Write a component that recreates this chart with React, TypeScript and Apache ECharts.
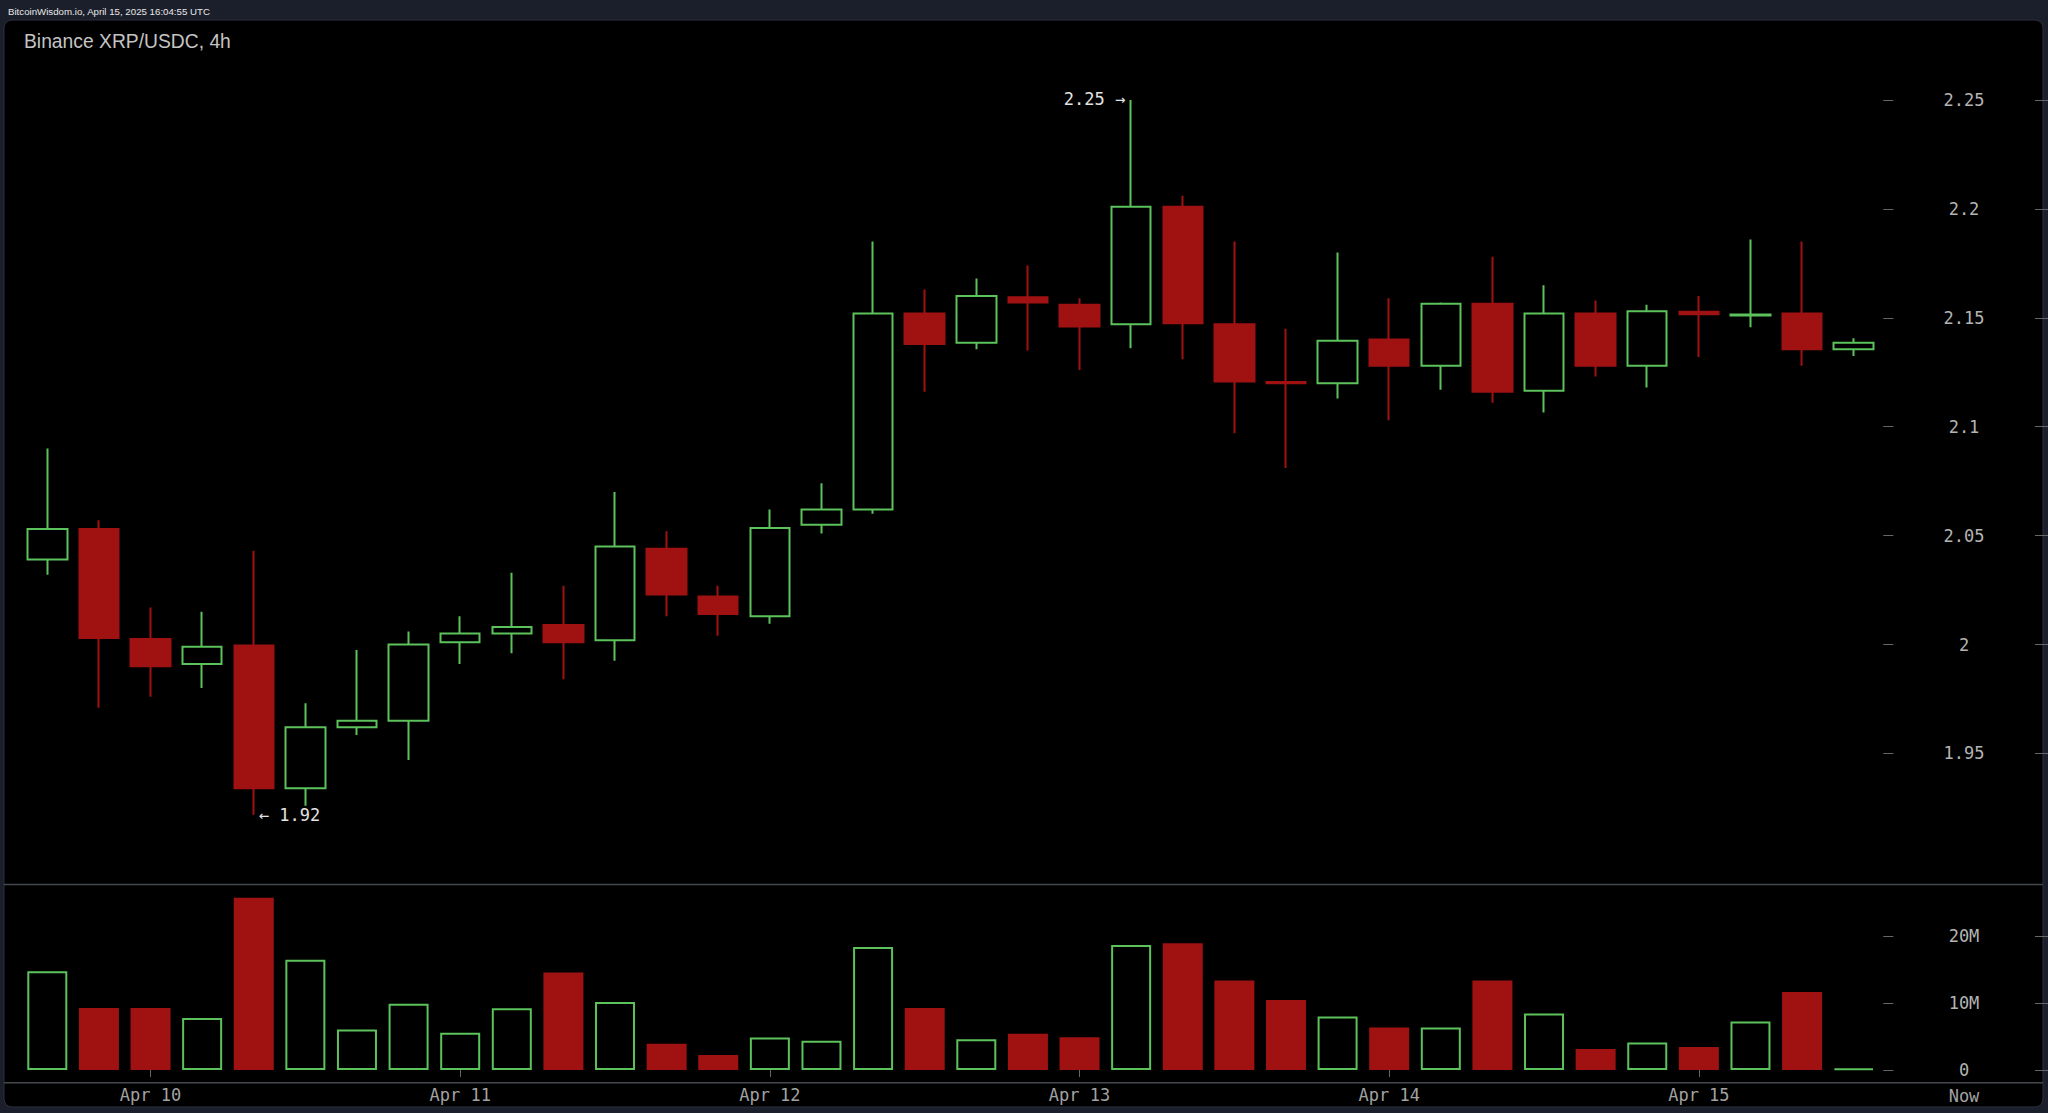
import React, { useEffect, useRef } from "react";
import * as echarts from "echarts";

// 4h candles (chart local time)
const times = [
  "2025-04-09 16:00", "2025-04-09 20:00",
  "2025-04-10 00:00", "2025-04-10 04:00", "2025-04-10 08:00", "2025-04-10 12:00", "2025-04-10 16:00", "2025-04-10 20:00",
  "2025-04-11 00:00", "2025-04-11 04:00", "2025-04-11 08:00", "2025-04-11 12:00", "2025-04-11 16:00", "2025-04-11 20:00",
  "2025-04-12 00:00", "2025-04-12 04:00", "2025-04-12 08:00", "2025-04-12 12:00", "2025-04-12 16:00", "2025-04-12 20:00",
  "2025-04-13 00:00", "2025-04-13 04:00", "2025-04-13 08:00", "2025-04-13 12:00", "2025-04-13 16:00", "2025-04-13 20:00",
  "2025-04-14 00:00", "2025-04-14 04:00", "2025-04-14 08:00", "2025-04-14 12:00", "2025-04-14 16:00", "2025-04-14 20:00",
  "2025-04-15 00:00", "2025-04-15 04:00", "2025-04-15 08:00", "2025-04-15 12:00",
];

const opens = [
  2.039, 2.053, 2.0025, 1.991, 1.9995, 1.934, 1.962, 1.965, 2.001, 2.005, 2.009, 2.002,
  2.044, 2.022, 2.013, 2.055, 2.062, 2.152, 2.1386, 2.1594, 2.156, 2.147, 2.201, 2.147,
  2.1205, 2.12, 2.14, 2.128, 2.1565, 2.1165, 2.152, 2.128, 2.1528, 2.151, 2.152, 2.1356,
];
const closes = [
  2.053, 2.003, 1.99, 1.999, 1.934, 1.962, 1.965, 2.0, 2.005, 2.008, 2.001, 2.045,
  2.023, 2.014, 2.0535, 2.062, 2.152, 2.138, 2.16, 2.157, 2.146, 2.201, 2.1475, 2.1207,
  2.12, 2.1395, 2.128, 2.1565, 2.116, 2.152, 2.128, 2.153, 2.1516, 2.1515, 2.1356, 2.1386,
];
const lows = [
  2.032, 1.971, 1.976, 1.98, 1.9218, 1.926, 1.9585, 1.947, 1.991, 1.996, 1.984, 1.9925,
  2.013, 2.004, 2.0095, 2.051, 2.06, 2.116, 2.1356, 2.135, 2.126, 2.136, 2.131, 2.097,
  2.081, 2.113, 2.103, 2.117, 2.111, 2.1065, 2.123, 2.118, 2.132, 2.1457, 2.128, 2.1325,
];
const highs = [
  2.09, 2.057, 2.017, 2.015, 2.043, 1.973, 1.9975, 2.006, 2.013, 2.033, 2.027, 2.07,
  2.052, 2.027, 2.062, 2.074, 2.185, 2.163, 2.168, 2.174, 2.159, 2.25, 2.206, 2.185,
  2.145, 2.18, 2.159, 2.157, 2.178, 2.165, 2.158, 2.156, 2.16, 2.186, 2.185, 2.1406,
];
// volume, millions
const volumes = [
  14.75, 9.25, 9.25, 7.75, 25.7, 16.45, 6.05, 9.9, 5.55, 9.2, 14.55, 10.15,
  3.9, 2.25, 4.85, 4.35, 18.35, 9.25, 4.6, 5.4, 4.9, 18.65, 18.9, 13.35,
  10.45, 8.0, 6.35, 6.35, 13.35, 8.45, 3.15, 4.1, 3.45, 7.25, 11.65, 0.2,
];

const priceTicks = { min: 1.95, max: 2.25, step: 0.05 };
const volumeTicks = { min: 0, max: 20, step: 10 };
const monthNames = ["Jan", "Feb", "Mar", "Apr", "May", "Jun", "Jul", "Aug", "Sep", "Oct", "Nov", "Dec"];

const GREEN = "#5cc25c";
const RED = "#a01212";
const MONO = "'DejaVu Sans Mono', monospace";

export default function App() {
  const ref = useRef<HTMLDivElement>(null);

  useEffect(() => {
    if (!ref.current) return;
    const chart = echarts.init(ref.current, null, { renderer: "svg" });

    let hiIdx = 0;
    let loIdx = 0;
    highs.forEach((h, i) => { if (h > highs[hiIdx]) hiIdx = i; });
    lows.forEach((l, i) => { if (l < lows[loIdx]) loIdx = i; });

    const isDayStart = (i: number) => times[i].endsWith("00:00");
    const dayLabel = (v: string) => {
      const [d] = v.split(" ");
      const [, m, day] = d.split("-");
      return `${monthNames[parseInt(m, 10) - 1]} ${parseInt(day, 10)}`;
    };

    const gridLeft = 21.5;
    const gridWidth = 1858;
    const tickColor = "#666";
    const labelColor = "#b4b4b4";

    const priceAxisBase = {
      type: "value",
      gridIndex: 0,
      position: "right",
      min: priceTicks.min,
      max: priceTicks.max,
      interval: priceTicks.step,
      splitLine: { show: false },
      axisLine: { show: false },
    };
    const volAxisBase = {
      type: "value",
      gridIndex: 1,
      position: "right",
      min: volumeTicks.min,
      max: volumeTicks.max,
      interval: volumeTicks.step,
      splitLine: { show: false },
      axisLine: { show: false },
    };

    chart.setOption({
      animation: false,
      backgroundColor: "transparent",
      grid: [
        { left: gridLeft, width: gridWidth, top: 100, height: 653.4 },
        { left: gridLeft, width: gridWidth, top: 936, height: 134 },
      ],
      xAxis: [
        { type: "category", gridIndex: 0, data: times, boundaryGap: true, show: false },
        {
          type: "category",
          gridIndex: 1,
          data: times,
          boundaryGap: true,
          offset: 12.7,
          axisLine: { show: false },
          axisTick: {
            show: true,
            alignWithLabel: true,
            interval: (i: number) => isDayStart(i),
            length: 7,
            lineStyle: { color: tickColor },
          },
          axisLabel: {
            interval: (i: number) => isDayStart(i),
            formatter: (v: string) => dayLabel(v),
            color: "#a2a2a2",
            fontFamily: MONO,
            fontSize: 17,
            margin: 4,
          },
        },
      ],
      yAxis: [
        {
          ...priceAxisBase,
          offset: 3.8,
          axisTick: { show: true, length: 10, lineStyle: { color: tickColor } },
          axisLabel: {
            align: "center",
            margin: 80.7,
            color: labelColor,
            fontFamily: MONO,
            fontSize: 17,
            formatter: (v: number) => String(+v.toFixed(2)),
          },
        },
        {
          ...priceAxisBase,
          offset: 155.5,
          axisTick: { show: true, length: 14, lineStyle: { color: tickColor } },
          axisLabel: { show: false },
        },
        {
          ...volAxisBase,
          offset: 3.8,
          axisTick: { show: true, length: 10, lineStyle: { color: tickColor } },
          axisLabel: {
            align: "center",
            margin: 80.7,
            color: labelColor,
            fontFamily: MONO,
            fontSize: 17,
            formatter: (v: number) => (v === 0 ? "0" : `${v}M`),
          },
        },
        {
          ...volAxisBase,
          offset: 155.5,
          axisTick: { show: true, length: 14, lineStyle: { color: tickColor } },
          axisLabel: { show: false },
        },
      ],
      series: [
        {
          type: "candlestick",
          xAxisIndex: 0,
          yAxisIndex: 0,
          clip: false,
          barWidth: 40,
          data: times.map((_, i) => [opens[i], closes[i], lows[i], highs[i]]),
          itemStyle: {
            color: "#000",
            color0: RED,
            borderColor: GREEN,
            borderColor0: RED,
            borderWidth: 2,
          },
        },
        {
          type: "bar",
          xAxisIndex: 1,
          yAxisIndex: 2,
          clip: false,
          barWidth: 40,
          data: volumes.map((v, i) => {
            const up = closes[i] >= opens[i];
            return {
              value: v,
              itemStyle: up
                ? { color: "#000", borderColor: GREEN, borderWidth: 2 }
                : { color: RED, borderColor: RED, borderWidth: 2 },
            };
          }),
        },
      ],
      graphic: [
        {
          id: "panel",
          type: "rect",
          z: -10,
          silent: true,
          shape: { x: 4, y: 20, width: 2039, height: 1087, r: 8 },
          style: { fill: "#000", stroke: "#2b303c", lineWidth: 1 },
        },
        {
          id: "sep1",
          type: "line",
          z: -5,
          silent: true,
          shape: { x1: 4, y1: 884.5, x2: 2043, y2: 884.5 },
          style: { stroke: "#45484f", lineWidth: 1.5 },
        },
        {
          id: "sep2",
          type: "line",
          z: -5,
          silent: true,
          shape: { x1: 4, y1: 1082.7, x2: 2043, y2: 1082.7 },
          style: { stroke: "#45484f", lineWidth: 1.5 },
        },
        {
          id: "topbar",
          type: "text",
          silent: true,
          style: {
            text: "BitcoinWisdom.io, April 15, 2025 16:04:55 UTC",
            x: 8,
            y: 11.5,
            verticalAlign: "middle",
            fill: "#e8e8e8",
            font: "9.7px 'Liberation Sans', Arial, sans-serif",
          },
        },
        {
          id: "title",
          type: "text",
          silent: true,
          style: {
            text: "Binance XRP/USDC, 4h",
            x: 24,
            y: 41,
            verticalAlign: "middle",
            fill: "#c4c4c4",
            font: "19.3px 'Liberation Sans', Arial, sans-serif",
          },
        },
        {
          id: "now",
          type: "text",
          silent: true,
          style: {
            text: "Now",
            x: 1964,
            y: 1096,
            align: "center",
            verticalAlign: "middle",
            fill: "#a2a2a2",
            font: `17px ${MONO}`,
          },
        },
      ],
    });

    // High / low annotations placed through the chart's own scales
    const hiPt = chart.convertToPixel({ gridIndex: 0 }, [hiIdx, highs[hiIdx]]) as number[];
    const loPt = chart.convertToPixel({ gridIndex: 0 }, [loIdx, lows[loIdx]]) as number[];
    chart.setOption({
      graphic: [
        {
          id: "hiLabel",
          type: "text",
          silent: true,
          style: {
            text: `${highs[hiIdx].toFixed(2)} \u2192`,
            x: hiPt[0] - 6,
            y: hiPt[1] - 1,
            align: "right",
            verticalAlign: "middle",
            fill: "#e2e2e2",
            font: `17px ${MONO}`,
          },
        },
        {
          id: "loLabel",
          type: "text",
          silent: true,
          style: {
            text: `\u2190 ${lows[loIdx].toFixed(2)}`,
            x: loPt[0] + 5,
            y: loPt[1],
            align: "left",
            verticalAlign: "middle",
            fill: "#e2e2e2",
            font: `17px ${MONO}`,
          },
        },
      ],
    });

    return () => chart.dispose();
  }, []);

  return (
    <div
      ref={ref}
      style={{
        position: "absolute",
        left: 0,
        top: 0,
        width: 2048,
        height: 1113,
        background: "#1b1f2b",
      }}
    />
  );
}
